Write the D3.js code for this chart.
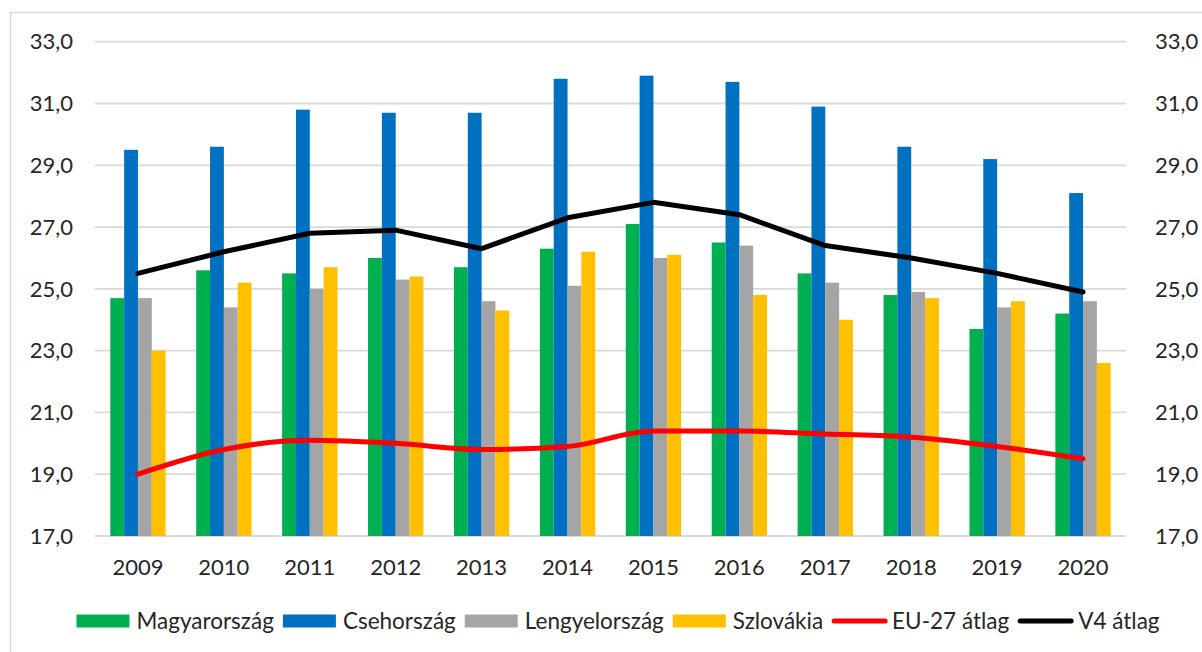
<!DOCTYPE html>
<html>
<head>
<meta charset="utf-8">
<script src="https://cdn.jsdelivr.net/npm/d3@7"></script>
<style>
  body { margin: 0; background: #fff; }
  text { font-family: Lato, "Open Sans", sans-serif; fill: #262626; }
</style>
</head>
<body>
<div id="chart"></div>
<script>
// categories
let arrYears = ["2009", "2010", "2011", "2012", "2013", "2014", "2015", "2016", "2017", "2018", "2019", "2020"];

// bar series values
let arrMagyar = [24.7, 25.6, 25.5, 26.0, 25.7, 26.3, 27.1, 26.5, 25.5, 24.8, 23.7, 24.2];
let arrCseh = [29.5, 29.6, 30.8, 30.7, 30.7, 31.8, 31.9, 31.7, 30.9, 29.6, 29.2, 28.1];
let arrLengyel = [24.7, 24.4, 25.0, 25.3, 24.6, 25.1, 26.0, 26.4, 25.2, 24.9, 24.4, 24.6];
let arrSzlovak = [23.0, 25.2, 25.7, 25.4, 24.3, 26.2, 26.1, 24.8, 24.0, 24.7, 24.6, 22.6];

// line series values
let arrEu27 = [19.0, 19.8, 20.1, 20.0, 19.8, 19.9, 20.4, 20.4, 20.3, 20.2, 19.9, 19.5];
let arrV4 = [25.5, 26.2, 26.8, 26.9, 26.3, 27.3, 27.8, 27.4, 26.4, 26.0, 25.5, 24.9];

// axis ticks
let arrTicks = [17, 19, 21, 23, 25, 27, 29, 31, 33];

// series names and colours
let arrBarNames = ["Magyarország", "Csehország", "Lengyelország", "Szlovákia"];
let arrBarColors = ["#00B050", "#0070C0", "#A5A5A5", "#FFC000"];
let arrBarValues = [arrMagyar, arrCseh, arrLengyel, arrSzlovak];

let intTotalWid = 1202;
let intTotalHgt = 652;

let objPlot = { left: 95, right: 1126, top: 41.7, bottom: 536 };

let svg = d3.select("#chart")
  .append("svg")
  .attr("width", intTotalWid)
  .attr("height", intTotalHgt);

// chart border (cropped at right and bottom)
svg.append("rect")
  .attr("x", 10.5)
  .attr("y", 12.5)
  .attr("width", 1240)
  .attr("height", 700)
  .attr("fill", "none")
  .attr("stroke", "#D9D9D9")
  .attr("stroke-width", 1.5);

// scales
let fnX = d3.scaleBand()
  .domain(arrYears)
  .range([objPlot.left, objPlot.right]);

let dblGap = fnX.bandwidth() * 0.178;
let fnXInner = d3.scaleBand()
  .domain(arrBarNames)
  .range([dblGap, fnX.bandwidth() - dblGap]);

let fnY = d3.scaleLinear()
  .domain([17, 33])
  .range([objPlot.bottom, objPlot.top]);

let fnFmt = v => d3.format(".1f")(v).replace(".", ",");

// gridlines
svg.append("g")
  .selectAll("line")
  .data(arrTicks)
  .enter()
  .append("line")
  .attr("x1", objPlot.left)
  .attr("x2", objPlot.right)
  .attr("y1", d => fnY(d))
  .attr("y2", d => fnY(d))
  .attr("stroke", "#D9D9D9")
  .attr("stroke-width", 1.8);

// left axis labels
svg.append("g")
  .selectAll("text")
  .data(arrTicks)
  .enter()
  .append("text")
  .attr("x", 73)
  .attr("y", d => fnY(d))
  .attr("dy", "0.35em")
  .attr("text-anchor", "end")
  .attr("font-size", 22)
  .text(fnFmt);

// right axis labels
svg.append("g")
  .selectAll("text")
  .data(arrTicks)
  .enter()
  .append("text")
  .attr("x", 1155)
  .attr("y", d => fnY(d))
  .attr("dy", "0.35em")
  .attr("text-anchor", "start")
  .attr("font-size", 22)
  .text(fnFmt);

// year labels
svg.append("g")
  .selectAll("text")
  .data(arrYears)
  .enter()
  .append("text")
  .attr("x", d => fnX(d) + fnX.bandwidth() / 2)
  .attr("y", 567)
  .attr("dy", "0.35em")
  .attr("text-anchor", "middle")
  .attr("font-size", 22)
  .text(d => d);

// bars
arrBarNames.forEach((strName, i) => {
  svg.append("g")
    .selectAll("rect")
    .data(arrBarValues[i])
    .enter()
    .append("rect")
    .attr("x", (d, j) => fnX(arrYears[j]) + fnXInner(strName))
    .attr("y", d => fnY(d))
    .attr("width", fnXInner.bandwidth())
    .attr("height", d => fnY(17) - fnY(d))
    .attr("fill", arrBarColors[i]);
});

// lines
let fnLineSmooth = d3.line()
  .x((d, j) => fnX(arrYears[j]) + fnX.bandwidth() / 2)
  .y(d => fnY(d))
  .curve(d3.curveMonotoneX);

let fnLineStraight = d3.line()
  .x((d, j) => fnX(arrYears[j]) + fnX.bandwidth() / 2)
  .y(d => fnY(d));

svg.append("path")
  .attr("d", fnLineSmooth(arrEu27))
  .attr("fill", "none")
  .attr("stroke", "#FF0000")
  .attr("stroke-width", 5)
  .attr("stroke-linecap", "round")
  .attr("stroke-linejoin", "round");

svg.append("path")
  .attr("d", fnLineStraight(arrV4))
  .attr("fill", "none")
  .attr("stroke", "#000000")
  .attr("stroke-width", 5)
  .attr("stroke-linecap", "round")
  .attr("stroke-linejoin", "round");

// legend
let arrLegend = arrBarNames.map((s, i) => ({ name: s, color: arrBarColors[i], type: "bar" }))
  .concat([
    { name: "EU-27 átlag", color: "#FF0000", type: "line" },
    { name: "V4 átlag", color: "#000000", type: "line" }
  ]);

let gLegend = svg.append("g");
let dblX = 0;
arrLegend.forEach(obj => {
  let gItem = gLegend.append("g").attr("transform", `translate(${dblX}, 0)`);
  if (obj.type === "bar") {
    gItem.append("rect")
      .attr("x", 0)
      .attr("y", -6.5)
      .attr("width", 53)
      .attr("height", 13)
      .attr("fill", obj.color);
  } else {
    gItem.append("line")
      .attr("x1", 2)
      .attr("x2", 53)
      .attr("y1", 0)
      .attr("y2", 0)
      .attr("stroke", obj.color)
      .attr("stroke-width", 5)
      .attr("stroke-linecap", "round");
  }
  let txt = gItem.append("text")
    .attr("x", 60)
    .attr("y", 0)
    .attr("dy", "0.35em")
    .attr("font-size", 22.5)
    .text(obj.name);
  dblX += 60 + txt.node().getComputedTextLength() + 9;
});
let dblLegWid = dblX - 9;
gLegend.attr("transform", `translate(${618 - dblLegWid / 2}, 621)`);
</script>
</body>
</html>
